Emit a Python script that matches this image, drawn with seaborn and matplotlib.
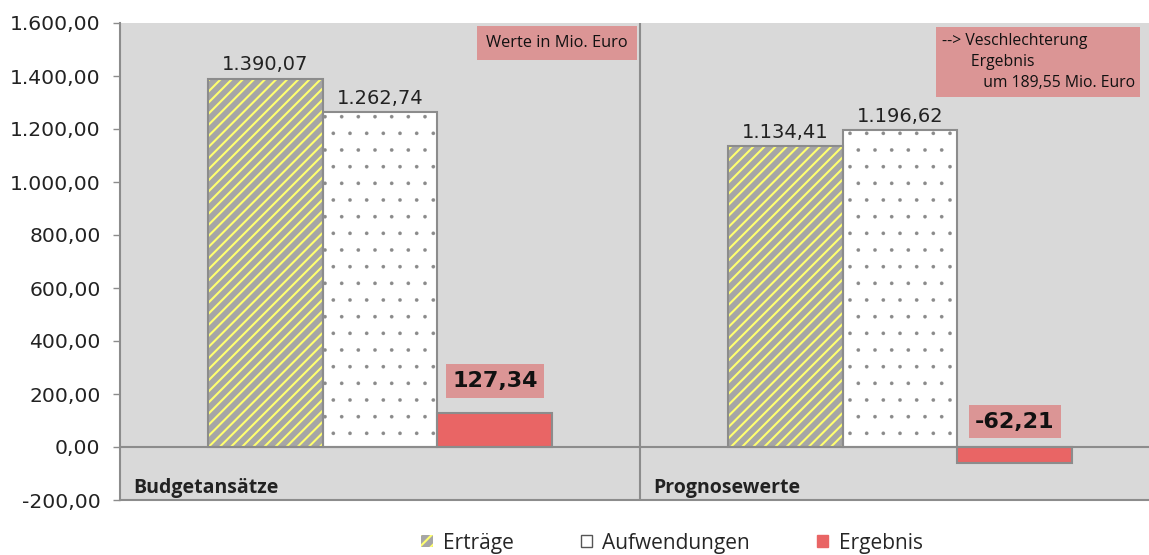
import matplotlib
matplotlib.use("Agg")
import matplotlib.pyplot as plt
import seaborn as sns
import pandas as pd
from matplotlib.patches import Patch, Rectangle

categories = ["Budgetansätze", "Prognosewerte"]
series = ["Erträge", "Aufwendungen", "Ergebnis"]
ertraege = [1390.07, 1134.41]
aufwendungen = [1262.74, 1196.62]
ergebnis = [127.34, -62.21]
yticks = [-200, 0, 200, 400, 600, 800, 1000, 1200, 1400, 1600]
note1 = "Werte in Mio. Euro"
note2 = "--> Veschlechterung\n       Ergebnis\n          um 189,55 Mio. Euro"

BG = "#d9d9d9"
GRID = "#8c8c8c"
C_ERT = "#a6a6a6"
C_HATCH = "#ffff70"
C_AUF = "#ffffff"
C_ERG = "#e96565"
C_BOX = "#db9595"

def de(v):
    s = f"{v:,.2f}"
    return s.replace(",", "X").replace(".", ",").replace("X", ".")

sns.set_theme(style="white")
plt.rcParams["font.family"] = ["Open Sans", "DejaVu Sans"]
plt.rcParams["hatch.linewidth"] = 1.5

df = pd.DataFrame({
    "cat": categories * 3,
    "serie": [s for s in series for _ in categories],
    "wert": ertraege + aufwendungen + ergebnis,
})

fig = plt.figure(figsize=(11.49, 5.55), dpi=100)
ax = fig.add_axes([120 / 1149, 1 - 500 / 555, 1040 / 1149, 477 / 555])
ax.set_facecolor(BG)

sns.barplot(data=df, x="cat", y="wert", hue="serie", hue_order=series,
            palette=[C_ERT, C_AUF, C_ERG], width=0.663, ax=ax,
            legend=False, saturation=1, errorbar=None)

hatches = ["///", ".", None]
hcolors = [C_HATCH, "#8a8a8a", GRID]
hlw = [1.5, 0.2, 1.0]
for cont, h, hc, lw in zip(ax.containers, hatches, hcolors, hlw):
    for p in cont:
        p.set_linewidth(0)
        if h:
            p.set_hatch(h)
            p.set_edgecolor(hc)
            if hasattr(p, "set_hatch_linewidth"):
                p.set_hatch_linewidth(lw)
        outline = Rectangle(p.get_xy(), p.get_width(), p.get_height(),
                            fill=False, edgecolor=GRID, linewidth=1.5,
                            zorder=p.get_zorder() + 0.1)
        ax.add_patch(outline)

for cont, vals in ((ax.containers[0], ertraege), (ax.containers[1], aufwendungen)):
    ax.bar_label(cont, labels=[de(v) for v in vals], padding=3,
                 fontsize=14, color="#222222", family=["DejaVu Sans"])

for p, v in zip(ax.containers[2], ergebnis):
    x = p.get_x() + p.get_width() / 2
    ax.annotate(de(v), (x, max(v, 0)), xytext=(0, 16 if v > 0 else 11),
                textcoords="offset points", ha="center", va="bottom",
                fontsize=16, fontweight="bold", color="#111111",
                family=["DejaVu Sans"],
                bbox=dict(boxstyle="square,pad=0.3", fc=C_BOX, ec="none"))

ax.set_xlim(-0.5, 1.5)
ax.set_ylim(-200, 1600)
ax.set_yticks(yticks)
ax.set_yticklabels([de(v) for v in yticks], fontsize=14.6, color="#222222",
                   family=["DejaVu Sans"])
ax.set_xticks([])
ax.set_xlabel("")
ax.set_ylabel("")
ax.tick_params(axis="y", length=5, width=1, color=GRID, left=True, pad=9)

ax.axhline(0, color=GRID, lw=1.5, zorder=1)
ax.axvline(0.5, color=GRID, lw=1.5, zorder=1)
for sp in ["top", "right"]:
    ax.spines[sp].set_visible(False)
for sp in ["left", "bottom"]:
    ax.spines[sp].set_color(GRID)
    ax.spines[sp].set_linewidth(1.5)

for i, c in enumerate(categories):
    ax.text(i - 0.5 + 0.025, -155, c, ha="left", va="center",
            fontsize=14, fontweight="bold", color="#222222")

ax.text(0.488, 0.975, note1, transform=ax.transAxes, ha="right", va="top",
        fontsize=11.8, color="#111111",
        bbox=dict(boxstyle="square,pad=0.55", fc=C_BOX, ec="none"))
ax.text(0.790, 0.98, note2, transform=ax.transAxes, ha="left", va="top",
        fontsize=11.3, color="#111111", linespacing=1.45,
        bbox=dict(boxstyle="square,pad=0.35", fc=C_BOX, ec="none"))

handles = [
    Patch(facecolor=C_ERT, edgecolor=C_HATCH, hatch="///", linewidth=0),
    Patch(facecolor=C_AUF, edgecolor="#555555", linewidth=1),
    Patch(facecolor=C_ERG, edgecolor=C_ERG),
]
fig.legend(handles, series, loc="center", bbox_to_anchor=(672 / 1149, 1 - 543 / 555),
           ncol=3, frameon=False, fontsize=15, handlelength=0.55, handleheight=0.55,
           handletextpad=0.5, columnspacing=3.2)

fig.savefig("out.png", dpi=100)
